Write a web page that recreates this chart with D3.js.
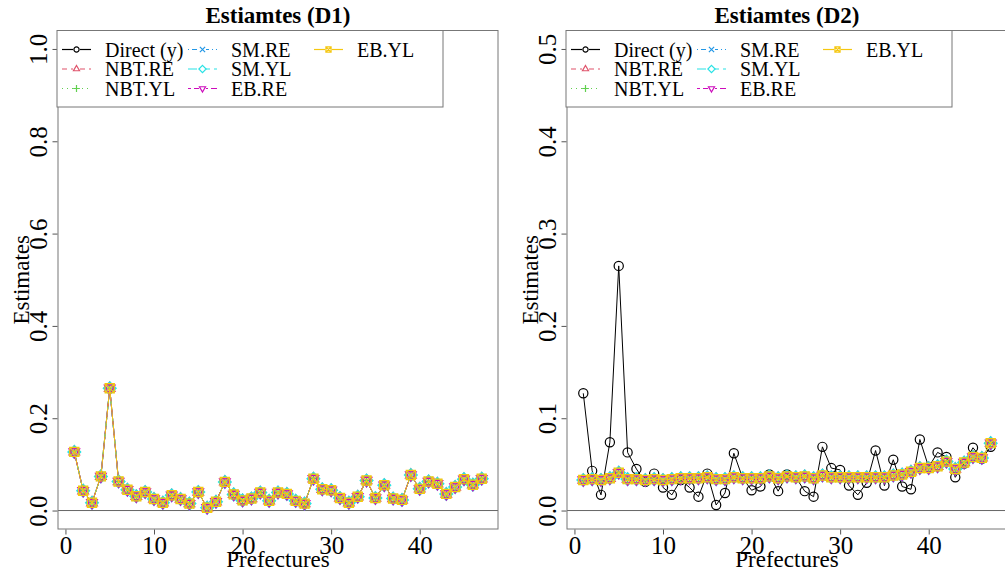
<!DOCTYPE html>
<html>
<head>
<meta charset="utf-8">
<style>
    body { margin: 0; background: #fff; }
    svg text { font-family: "Liberation Serif", "Times New Roman", serif; fill: #000; }
</style>
</head>
<body>
<div id="containerChart"></div>
<script src="https://cdn.jsdelivr.net/npm/d3@7/dist/d3.min.js"></script>
<script>
// prefecture index 1..47
var prefectures = [1,2,3,4,5,6,7,8,9,10,11,12,13,14,15,16,17,18,19,20,21,22,23,24,
    25,26,27,28,29,30,31,32,33,34,35,36,37,38,39,40,41,42,43,44,45,46,47];

var seriesNames = ["Direct (y)", "NBT.RE", "NBT.YL", "SM.RE", "SM.YL", "EB.RE", "EB.YL"];

// direct estimates (same in both designs)
var direct = [0.127, 0.043, 0.017, 0.074, 0.265, 0.063, 0.045, 0.031, 0.040, 0.025,
    0.017, 0.033, 0.025, 0.015, 0.040, 0.006, 0.019, 0.062, 0.035, 0.022,
    0.026, 0.039, 0.021, 0.039, 0.036, 0.021, 0.015, 0.069, 0.046, 0.044,
    0.027, 0.017, 0.030, 0.065, 0.027, 0.055, 0.026, 0.023, 0.077, 0.047,
    0.063, 0.058, 0.036, 0.051, 0.068, 0.056, 0.069];

// D1: model estimates sit on top of the direct ones
var d1Model = direct;

// D2: model estimates (all six nearly identical)
var d2Model = [0.033, 0.034, 0.033, 0.035, 0.041, 0.034, 0.034, 0.033, 0.034, 0.033,
    0.034, 0.035, 0.035, 0.035, 0.036, 0.034, 0.034, 0.036, 0.035, 0.035,
    0.035, 0.037, 0.035, 0.037, 0.036, 0.037, 0.035, 0.038, 0.036, 0.036,
    0.036, 0.036, 0.036, 0.036, 0.036, 0.038, 0.039, 0.042, 0.046, 0.046,
    0.048, 0.053, 0.045, 0.052, 0.058, 0.057, 0.073];

var xTicks = [0, 10, 20, 30, 40];
var d1YTicks = [0.0, 0.2, 0.4, 0.6, 0.8, 1.0];
var d2YTicks = [0.0, 0.1, 0.2, 0.3, 0.4, 0.5];

var colors = ["#000000", "#DF536B", "#61D04F", "#2297E6", "#28E2E5", "#CD0BBC", "#F5C710"];
var dashes = [null, "5,4", "1,4", "1,3,5,3", "9,4", "3,3,8,3", null];
var pchs = ["circle", "tri", "plus", "cross", "diamond", "tridown", "sqx"];
var serif = "'Liberation Serif', 'Times New Roman', serif";

var svg = d3.select("#containerChart")
    .append("svg")
    .attr("width", 1005)
    .attr("height", 571);

function markerPath(pch, r) {
    var p = d3.path();
    if (pch == "circle") {
        p.moveTo(r, 0); p.arc(0, 0, r, 0, 2 * Math.PI);
    } else if (pch == "tri") {
        var a = r * 1.35;
        p.moveTo(0, -a); p.lineTo(a * 0.87, a * 0.5); p.lineTo(-a * 0.87, a * 0.5); p.closePath();
    } else if (pch == "tridown") {
        var b = r * 1.35;
        p.moveTo(0, b); p.lineTo(b * 0.87, -b * 0.5); p.lineTo(-b * 0.87, -b * 0.5); p.closePath();
    } else if (pch == "plus") {
        var c = r * 1.3;
        p.moveTo(-c, 0); p.lineTo(c, 0); p.moveTo(0, -c); p.lineTo(0, c);
    } else if (pch == "cross") {
        p.moveTo(-r, -r); p.lineTo(r, r); p.moveTo(-r, r); p.lineTo(r, -r);
    } else if (pch == "diamond") {
        var d = r * 1.4;
        p.moveTo(0, -d); p.lineTo(d, 0); p.lineTo(0, d); p.lineTo(-d, 0); p.closePath();
    } else if (pch == "sqx") {
        p.rect(-r, -r, 2 * r, 2 * r);
        p.moveTo(-r, -r); p.lineTo(r, r); p.moveTo(-r, r); p.lineTo(r, -r);
    }
    return p.toString();
}

function drawPanel(left, title, yMax, yTicks, series) {
    var boxW = 440, top = 30.5, bottom = 529;

    var xScale = d3.scaleLinear()
        .domain([1 - 0.04 * 46, 47 + 0.04 * 46])
        .range([left, left + boxW]);
    var yScale = d3.scaleLinear()
        .domain([-0.04 * yMax, 1.04 * yMax])
        .range([bottom, top]);

    var g = svg.append("g");

    // zero line
    g.append("line")
        .attr("x1", left).attr("x2", left + boxW)
        .attr("y1", yScale(0)).attr("y2", yScale(0))
        .attr("stroke", "#666").attr("stroke-width", 1);

    // series
    series.forEach(function (vals, i) {
        var line = d3.line()
            .x(function (d, k) { return xScale(prefectures[k]); })
            .y(function (d) { return yScale(d); });
        g.append("path")
            .datum(vals)
            .attr("d", line)
            .attr("fill", "none")
            .attr("stroke", colors[i])
            .attr("stroke-width", 1)
            .attr("stroke-dasharray", dashes[i]);
        g.selectAll(null)
            .data(vals)
            .enter().append("path")
            .attr("transform", function (d, k) { return "translate(" + xScale(prefectures[k]) + "," + yScale(d) + ")"; })
            .attr("d", markerPath(pchs[i], 4.6))
            .attr("fill", "none")
            .attr("stroke", colors[i])
            .attr("stroke-width", 1.2);
    });

    // box
    g.append("rect")
        .attr("x", left).attr("y", top)
        .attr("width", boxW).attr("height", bottom - top)
        .attr("fill", "none").attr("stroke", "#777").attr("stroke-width", 1);

    // y axis
    var yAxis = d3.axisLeft(yScale)
        .tickValues(yTicks)
        .tickSize(5)
        .tickFormat(d3.format(".1f"));
    var ya = g.append("g")
        .attr("transform", "translate(" + (left - 0.5) + ",0)")
        .call(yAxis)
        .attr("font-family", serif)
        .attr("font-size", 25);
    ya.select(".domain").remove();
    ya.selectAll(".tick line").attr("stroke", "#555");
    ya.selectAll(".tick text")
        .attr("x", 0).attr("dy", null)
        .attr("transform", "translate(-11,0) rotate(-90)")
        .attr("text-anchor", "middle");

    // x axis
    var xAxis = d3.axisBottom(xScale)
        .tickValues(xTicks)
        .tickSize(5);
    var xa = g.append("g")
        .attr("transform", "translate(0," + (bottom + 0.5) + ")")
        .call(xAxis)
        .attr("font-family", serif)
        .attr("font-size", 25);
    xa.select(".domain").remove();
    xa.selectAll(".tick line").attr("stroke", "#555");
    xa.selectAll(".tick text")
        .attr("y", 24).attr("dy", null);

    // title and axis labels
    g.append("text")
        .attr("x", left + boxW / 2).attr("y", 23)
        .attr("text-anchor", "middle")
        .style("font-size", "23px").style("font-weight", "bold")
        .text(title);
    g.append("text")
        .attr("x", left + boxW / 2).attr("y", 567)
        .attr("text-anchor", "middle")
        .style("font-size", "23px")
        .text("Prefectures");
    g.append("text")
        .attr("transform", "translate(" + (left - 29) + "," + ((top + bottom) / 2) + ") rotate(-90)")
        .attr("text-anchor", "middle")
        .style("font-size", "23px")
        .text("Estimates");

    // legend
    var lg = g.append("g");
    lg.append("rect")
        .attr("x", left - 1).attr("y", top)
        .attr("width", 386).attr("height", 76.5)
        .attr("fill", "#fff").attr("stroke", "#777").attr("stroke-width", 1);
    var colX = [4, 130, 256];
    var rowY = [49.5, 69, 88.5];
    seriesNames.forEach(function (name, i) {
        var cx = left + colX[Math.floor(i / 3)];
        var cy = rowY[i % 3];
        lg.append("line")
            .attr("x1", cx).attr("x2", cx + 29)
            .attr("y1", cy).attr("y2", cy)
            .attr("stroke", colors[i]).attr("stroke-width", 1.2)
            .attr("stroke-dasharray", dashes[i]);
        lg.append("rect")
            .attr("x", cx + 11).attr("y", cy - 3.5)
            .attr("width", 7).attr("height", 7)
            .attr("fill", "#fff");
        lg.append("path")
            .attr("transform", "translate(" + (cx + 14.5) + "," + cy + ")")
            .attr("d", markerPath(pchs[i], 2.6))
            .attr("fill", "none")
            .attr("stroke", colors[i]).attr("stroke-width", 1.2);
        lg.append("text")
            .attr("x", cx + 43).attr("y", cy + 7)
            .style("font-size", "20px")
            .text(name);
    });
}

drawPanel(58, "Estiamtes (D1)", 1.0, d1YTicks,
    [direct, d1Model, d1Model, d1Model, d1Model, d1Model, d1Model]);
drawPanel(567, "Estiamtes (D2)", 0.5, d2YTicks,
    [direct, d2Model, d2Model, d2Model, d2Model, d2Model, d2Model]);
</script>
</body>
</html>
